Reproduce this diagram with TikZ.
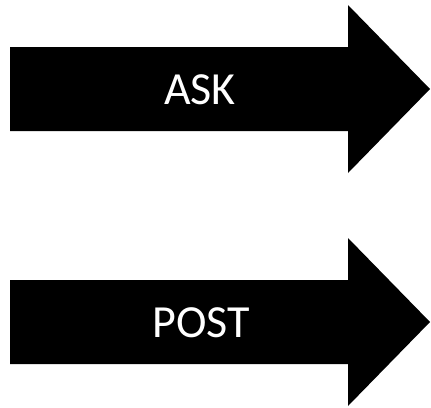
\documentclass[tikz,border=0pt]{standalone}
\usepackage{fontspec}
\setmainfont{Carlito}
\begin{document}
\begin{tikzpicture}[x=1pt,y=-1pt,
  arrowshape/.style={fill=black},
  lbl/.style={text=white,font=\fontsize{46}{50}\selectfont,inner sep=0pt,anchor=center}]
\useasboundingbox (0,0) rectangle (431,407);
\fill[arrowshape] (10,47) -- (348,47) -- (348,5) -- (430,89) -- (348,173) -- (348,131) -- (10,131) -- cycle;
\node[lbl] (ask) at (200,90) {\vphantom{A}ASK};
\fill[arrowshape] (10,280) -- (348,280) -- (348,238) -- (430,322) -- (348,406) -- (348,364) -- (10,364) -- cycle;
\node[lbl] (post) at (201,323) {\vphantom{A}POST};
\end{tikzpicture}
\end{document}
